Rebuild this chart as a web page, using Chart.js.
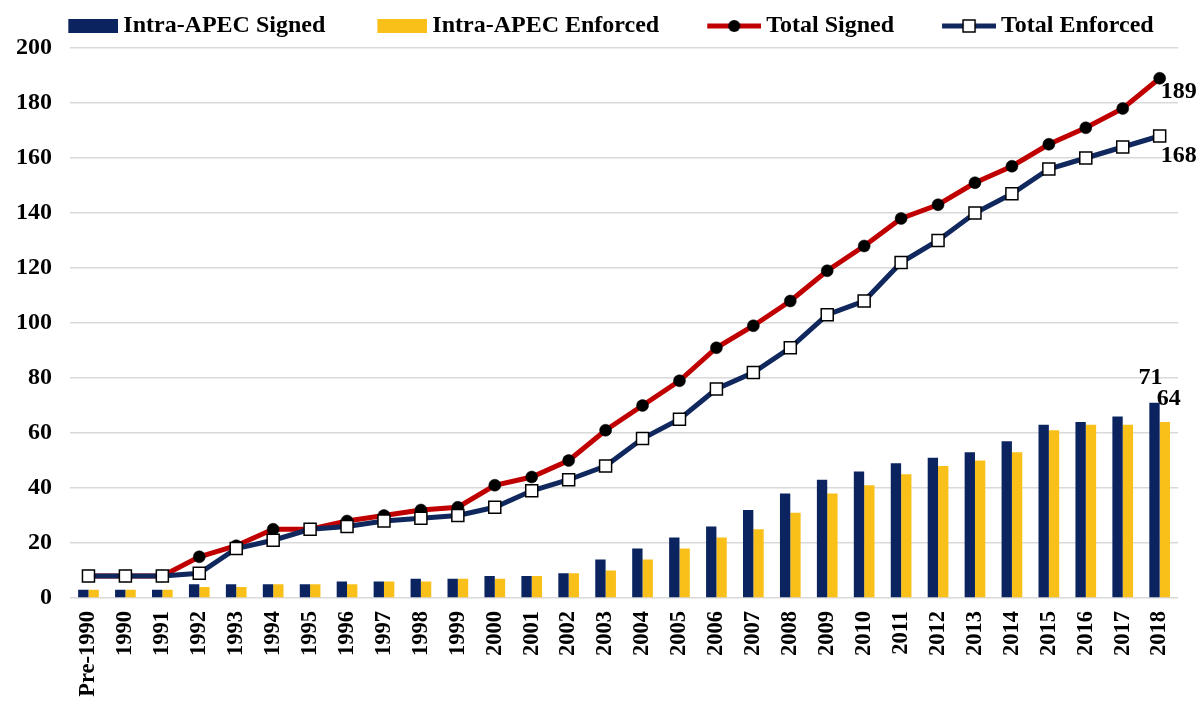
<!DOCTYPE html>
<html>
<head>
<meta charset="utf-8">
<script src="https://cdn.jsdelivr.net/npm/chart.js@4/dist/chart.umd.min.js"></script>
<style>
  html, body { margin: 0; padding: 0; background: #fff; }
  #wrap { width: 1200px; height: 704px; position: relative; }
</style>
</head>
<body>
<div id="wrap"><canvas id="chart"></canvas></div>
<script>
// categories
const years = ['Pre-1990', '1990', '1991', '1992', '1993', '1994', '1995', '1996', '1997', '1998',
    '1999', '2000', '2001', '2002', '2003', '2004', '2005', '2006', '2007', '2008',
    '2009', '2010', '2011', '2012', '2013', '2014', '2015', '2016', '2017', '2018'];

// series
const intraSigned   = [3, 3, 3, 5, 5, 5, 5, 6, 6, 7, 7, 8, 8, 9, 14, 18, 22, 26, 32, 38, 43, 46, 49, 51, 53, 57, 63, 64, 66, 71];
const intraEnforced = [3, 3, 3, 4, 4, 5, 5, 5, 6, 6, 7, 7, 8, 9, 10, 14, 18, 22, 25, 31, 38, 41, 45, 48, 50, 53, 61, 63, 63, 64];
const totalSigned   = [8, 8, 8, 15, 19, 25, 25, 28, 30, 32, 33, 41, 44, 50, 61, 70, 79, 91, 99, 108, 119, 128, 138, 143, 151, 157, 165, 171, 178, 189];
const totalEnforced = [8, 8, 8, 9, 18, 21, 25, 26, 28, 29, 30, 33, 39, 43, 48, 58, 65, 76, 82, 91, 103, 108, 122, 130, 140, 147, 156, 160, 164, 168];

// y axis
const yMin = 0, yMax = 200, yStep = 20;

const NAVY = '#0b2460';
const GOLD = '#f9c01a';
const RED = '#c00000';
const LINE_NAVY = '#10285e';
const FONT = "'Liberation Serif', 'Times New Roman', serif";

// legend swatches: box is BOX_W wide, image is wider so the marker sits
// close to the text; blank part on the left gives the gap between items
const BOX_W = 85, SW_W = 99, SW_H = 18;
function swatch(kind) {
    const c = document.createElement('canvas');
    c.width = SW_W; c.height = SW_H;
    const g = c.getContext('2d');
    const mid = SW_H / 2;
    if (kind === 'navyBar' || kind === 'goldBar') {
        g.fillStyle = kind === 'navyBar' ? NAVY : GOLD;
        g.fillRect(SW_W - 50, mid - 7, 50, 14);
    } else {
        const x0 = SW_W - 54;
        g.strokeStyle = kind === 'redLine' ? RED : LINE_NAVY;
        g.lineWidth = 5;
        g.beginPath(); g.moveTo(x0, mid); g.lineTo(SW_W, mid); g.stroke();
        const cx = x0 + 27;
        if (kind === 'redLine') {
            g.fillStyle = '#000';
            g.beginPath(); g.arc(cx, mid, 6, 0, Math.PI * 2); g.fill();
        } else {
            g.fillStyle = '#fff'; g.strokeStyle = '#000'; g.lineWidth = 1.5;
            g.fillRect(cx - 6, mid - 6, 12, 12); g.strokeRect(cx - 6, mid - 6, 12, 12);
        }
    }
    return c;
}
const swatches = [swatch('navyBar'), swatch('goldBar'), swatch('redLine'), swatch('navyLine')];

// end labels: 189, 168, 71, 64
const endLabels = {
    id: 'endLabels',
    afterDatasetsDraw(chart) {
        const ctx = chart.ctx;
        const last = years.length - 1;
        const p = i => chart.getDatasetMeta(i).data[last];
        ctx.save();
        ctx.fillStyle = '#000';
        ctx.font = 'bold 24px ' + FONT;
        ctx.textBaseline = 'middle';
        ctx.textAlign = 'left';
        const rs = p(2), re = p(3);
        ctx.fillText(String(totalSigned[last]), rs.x + 1, rs.y + 14);
        ctx.fillText(String(totalEnforced[last]), re.x + 1, re.y + 20);
        ctx.textAlign = 'center';
        const bs = p(0), be = p(1);
        ctx.fillText(String(intraSigned[last]), bs.x - 4, bs.y - 25);
        ctx.fillText(String(intraEnforced[last]), be.x + 4, be.y - 23);
        ctx.restore();
    }
};

new Chart(document.getElementById('chart'), {
    data: {
        labels: years,
        datasets: [
            { type: 'bar', label: 'Intra-APEC Signed', data: intraSigned, backgroundColor: NAVY,
              categoryPercentage: 0.56, barPercentage: 1.0, order: 3 },
            { type: 'bar', label: 'Intra-APEC Enforced', data: intraEnforced, backgroundColor: GOLD,
              categoryPercentage: 0.56, barPercentage: 1.0, order: 4 },
            { type: 'line', label: 'Total Signed', data: totalSigned, borderColor: RED, borderWidth: 5,
              tension: 0, pointStyle: 'circle', pointRadius: 6, pointBackgroundColor: '#000',
              pointBorderColor: '#000', pointBorderWidth: 0.5, order: 2 },
            { type: 'line', label: 'Total Enforced', data: totalEnforced, borderColor: LINE_NAVY, borderWidth: 5,
              tension: 0, pointStyle: 'rect', pointRadius: 8.5, pointBackgroundColor: '#fff',
              pointBorderColor: '#000', pointBorderWidth: 1.5, order: 1 }
        ]
    },
    options: {
        responsive: true,
        maintainAspectRatio: false,
        animation: false,
        layout: { padding: { top: 4, right: 20, bottom: 0, left: 0 } },
        plugins: {
            tooltip: { enabled: false },
            legend: {
                position: 'top',
                labels: {
                    usePointStyle: true,
                    pointStyleWidth: BOX_W,
                    padding: 10,
                    color: '#000',
                    font: { family: FONT, size: 24, weight: 'bold' },
                    sort: (a, b) => a.datasetIndex - b.datasetIndex,
                    generateLabels(chart) {
                        return chart.data.datasets.map((ds, i) => ({
                            text: ds.label,
                            datasetIndex: i,
                            pointStyle: swatches[i],
                            fillStyle: '#000',
                            strokeStyle: '#000',
                            lineWidth: 0,
                            fontColor: '#000',
                            hidden: false
                        }));
                    }
                }
            }
        },
        scales: {
            x: {
                grid: { display: false, drawTicks: false },
                border: { display: false },
                ticks: {
                    color: '#000', minRotation: 90, maxRotation: 90, autoSkip: false, padding: 13,
                    font: { family: FONT, size: 22.5, weight: 'bold' }
                },
                afterFit(scale) { scale.height = 106; }
            },
            y: {
                min: yMin, max: yMax,
                grid: { color: '#d9d9d9', lineWidth: 1.5, drawTicks: false },
                border: { display: false },
                ticks: {
                    stepSize: yStep, color: '#000', padding: 18,
                    font: { family: FONT, size: 24, weight: 'bold' }
                },
                afterFit(scale) { scale.width = 70; }
            }
        }
    },
    plugins: [endLabels]
});
</script>
</body>
</html>
